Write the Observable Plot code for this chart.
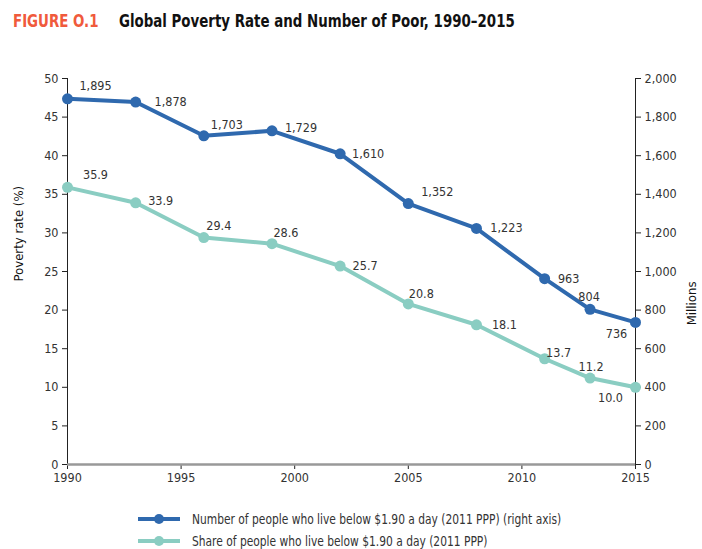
<!DOCTYPE html>
<html>
<head>
<meta charset="utf-8">
<script src="https://cdn.jsdelivr.net/npm/d3@7"></script>
<script src="https://cdn.jsdelivr.net/npm/@observablehq/plot@0.6"></script>
<style>
  body { margin: 0; background: #fff; font-family: "Liberation Sans Narrow", "DejaVu Sans Condensed", "Roboto", sans-serif; }
  #title { position: absolute; left: 13px; top: 11px; font-size: 17.5px; font-weight: bold; color: #111; white-space: nowrap; transform: scaleX(0.85); transform-origin: left top; }
  #title .fig { color: #F05A3C; margin-right: 24px; }
  #chart { position: absolute; left: 0; top: 55px; }
  #legend { position: absolute; left: 138px; top: 508px; font-size: 13.5px; color: #333; }
  .row { display: flex; align-items: center; height: 22px; }
  .row svg { margin-right: 12px; }
  .row span { display: inline-block; transform: scaleX(0.88); transform-origin: left center; white-space: nowrap; }
</style>
</head>
<body>
<div id="title"><span class="fig">FIGURE O.1</span>Global Poverty Rate and Number of Poor, 1990–2015</div>
<div id="chart"></div>
<div id="legend"></div>
<script>
const years = [1990, 1993, 1996, 1999, 2002, 2005, 2008, 2011, 2013, 2015];
const povertyRate = [35.9, 33.9, 29.4, 28.6, 25.7, 20.8, 18.1, 13.7, 11.2, 10.0];
const numberPoor = [1895, 1878, 1703, 1729, 1610, 1352, 1223, 963, 804, 736];
const leftTicks = [0, 5, 10, 15, 20, 25, 30, 35, 40, 45, 50];
const rightTicks = [0, 200, 400, 600, 800, 1000, 1200, 1400, 1600, 1800, 2000];
const xTicks = [1990, 1995, 2000, 2005, 2010, 2015];
const seriesNames = [
  "Number of people who live below $1.90 a day (2011 PPP) (right axis)",
  "Share of people who live below $1.90 a day (2011 PPP)"
];
const axisTitles = ["Poverty rate (%)", "Millions"];
// label placement offsets (styling)
const blueOffsets = [[28,-13],[35,0],[23,-11],[29,-3],[28,0],[29,-12],[30,0],[24,0],[-1,-12],[-19,12]];
const tealOffsets = [[28,-12],[25,-2],[15,-12],[14,-11],[25,0],[13,-10],[28,0],[14,-6],[1,-11],[-25,11]];

const blue = "#2F69AE";
const teal = "#8ACDC2";
const ratio = 2000 / 50;

const rows = years.map((y, i) => ({year: y, rate: povertyRate[i], num: numberPoor[i], numScaled: numberPoor[i] / ratio, i}));

const fmtComma = d3.format(",");
const fmt1 = d3.format(".1f");

const labelMarks = [];
rows.forEach((r, i) => {
  labelMarks.push(Plot.text([r], {x: "year", y: "numScaled", text: d => fmtComma(d.num), dx: blueOffsets[i][0], dy: blueOffsets[i][1], fontSize: 12.5, fill: "#333"}));
  labelMarks.push(Plot.text([r], {x: "year", y: "rate", text: d => fmt1(d.rate), dx: tealOffsets[i][0], dy: tealOffsets[i][1], fontSize: 12.5, fill: "#333"}));
});

const chart = Plot.plot({
  width: 702,
  height: 439,
  marginLeft: 67,
  marginRight: 67,
  marginTop: 23,
  marginBottom: 30,
  style: {fontFamily: '"Liberation Sans Narrow", "DejaVu Sans Condensed", sans-serif', fontSize: "12px", color: "#333", background: "#fff"},
  x: {domain: [1990, 2015]},
  y: {domain: [0, 50]},
  marks: [
    Plot.axisY({anchor: "left", ticks: leftTicks, tickSize: 5, tickPadding: 4, fontSize: 12.5, label: null, stroke: "#222"}),
    Plot.axisY({anchor: "right", ticks: leftTicks, tickFormat: (d, i) => fmtComma(rightTicks[i]), tickSize: 5, tickPadding: 4, fontSize: 12.5, label: null, stroke: "#222"}),
    Plot.axisX({ticks: xTicks, tickFormat: d => String(d), tickSize: 5, tickPadding: 4, fontSize: 12.5, label: null, stroke: "#222"}),
    Plot.text([axisTitles[0]], {frameAnchor: "left", rotate: -90, dx: -49, dy: 10, fontSize: 13, fill: "#111"}),
    Plot.text([axisTitles[1]], {frameAnchor: "right", rotate: -90, dx: 56, dy: 10, fontSize: 13, fill: "#111"}),
    Plot.ruleX([1990], {y1: 0, y2: 50, stroke: "#222", strokeWidth: 1}),
    Plot.ruleX([2015], {y1: 0, y2: 50, stroke: "#222", strokeWidth: 1}),
    Plot.ruleY([0], {stroke: "#999", strokeWidth: 2.5}),
    Plot.line(rows, {x: "year", y: "rate", stroke: teal, strokeWidth: 4}),
    Plot.dot(rows, {x: "year", y: "rate", fill: teal, r: 5.5}),
    Plot.line(rows, {x: "year", y: "numScaled", stroke: blue, strokeWidth: 4}),
    Plot.dot(rows, {x: "year", y: "numScaled", fill: blue, r: 5.5}),
    ...labelMarks
  ]
});
document.getElementById("chart").appendChild(chart);

const legend = document.getElementById("legend");
[[blue, seriesNames[0]], [teal, seriesNames[1]]].forEach(([c, name]) => {
  const row = document.createElement("div");
  row.className = "row";
  row.innerHTML = `<svg width="42" height="12"><line x1="0" x2="42" y1="6" y2="6" stroke="${c}" stroke-width="4"/><circle cx="21" cy="6" r="5" fill="${c}"/></svg><span>${name}</span>`;
  legend.appendChild(row);
});
</script>
</body>
</html>
